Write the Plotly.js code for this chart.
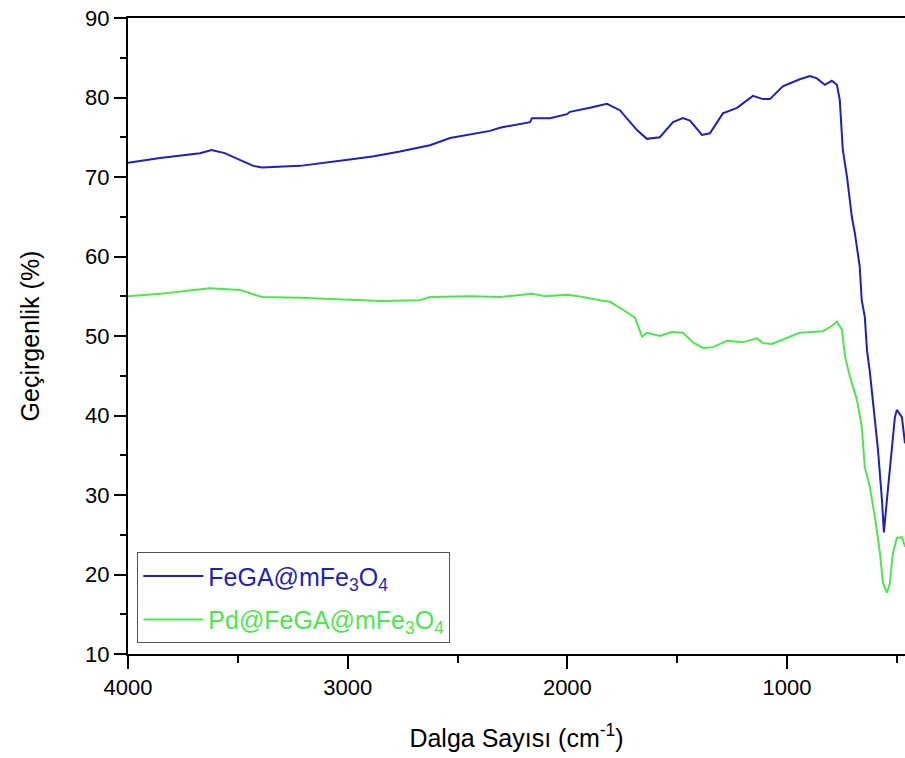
<!DOCTYPE html>
<html>
<head>
<meta charset="utf-8">
<script src="https://cdn.plot.ly/plotly-3.0.1.min.js"></script>
<style>html,body{margin:0;padding:0;background:#fff;}#chart{width:905px;height:758px;}</style>
</head>
<body>
<div id="chart"></div>
<script>
// FeGA@mFe3O4 (blue)
const blueWavenumber = [4000,3854,3672,3620,3560,3490,3430,3390,3217,2990,2880,2762,2625,2534,2420,2352,2307,2170,2161,2079,2002,1988,1897,1820,1761,1683,1638,1579,1519,1474,1442,1387,1351,1292,1228,1155,1110,1078,1019,942,896,864,828,796,773,760,746,727,705,691,669,660,646,636,623,609,586,568,559,545,532,509,500,477,463];
const blueTransmittance = [71.8,72.4,73.0,73.4,73.0,72.1,71.4,71.2,71.4,72.2,72.6,73.2,74.0,74.9,75.5,75.8,76.2,76.9,77.4,77.4,77.9,78.2,78.7,79.2,78.4,75.9,74.8,75.0,76.9,77.4,77.1,75.3,75.5,78.0,78.7,80.2,79.8,79.8,81.4,82.3,82.7,82.4,81.6,82.1,81.6,79.7,73.4,70.0,65.0,62.9,58.7,54.5,52.4,48.2,45.5,42.0,35.7,29.4,25.3,29.5,33.5,39.8,40.7,39.8,36.5];
// Pd@FeGA@mFe3O4 (green)
const greenWavenumber = [4000,3854,3700,3627,3490,3390,3217,2990,2850,2670,2625,2440,2307,2161,2100,2002,1950,1852,1806,1747,1692,1660,1638,1579,1524,1474,1428,1383,1337,1273,1201,1137,1110,1069,1001,942,882,837,805,773,750,736,714,682,660,646,623,600,577,563,545,532,518,500,477,463];
const greenTransmittance = [55.0,55.3,55.8,56.0,55.8,54.9,54.8,54.6,54.4,54.5,54.9,55.0,54.9,55.3,55.0,55.2,55.0,54.5,54.3,53.3,52.3,49.9,50.4,50.0,50.5,50.4,49.2,48.5,48.6,49.4,49.2,49.7,49.1,49.0,49.7,50.4,50.5,50.6,51.1,51.8,50.8,47.4,44.9,42.0,38.6,33.5,31.0,27.2,22.7,18.9,17.7,18.9,22.7,24.6,24.7,23.5];
const seriesNames = ['FeGA@mFe<sub>3</sub>O<sub>4</sub>', 'Pd@FeGA@mFe<sub>3</sub>O<sub>4</sub>'];
const xTitle = 'Dalga Sayısı (cm<sup>-1</sup>)';
const yTitle = 'Geçirgenlik (%)';

const blueColor = '#1f1fbf';
const greenColor = '#4ee64e';

const traces = [
  {x: blueWavenumber, y: blueTransmittance, mode: 'lines', type: 'scatter',
   name: '<span style="color:' + blueColor + '">' + seriesNames[0] + '</span>',
   legendgroup: 'a',
   line: {color: blueColor, width: 2}},
  {x: greenWavenumber, y: greenTransmittance, mode: 'lines', type: 'scatter',
   name: '<span style="color:' + greenColor + '">' + seriesNames[1] + '</span>',
   legendgroup: 'b',
   line: {color: greenColor, width: 2}}
];

const fontFam = 'Liberation Sans, Arial, sans-serif';
const layout = {
  width: 905, height: 758,
  margin: {l: 128, r: 0, t: 18, b: 104},
  paper_bgcolor: '#fff', plot_bgcolor: '#fff',
  font: {family: fontFam, color: '#000', size: 22},
  showlegend: true,
  legend: {
    x: 0.012, y: 0.017, xanchor: 'left', yanchor: 'bottom',
    bordercolor: '#555', borderwidth: 1, bgcolor: 'rgba(255,255,255,0)',
    font: {family: fontFam, size: 25},
    itemwidth: 60, tracegroupgap: 8
  },
  xaxis: {
    range: [4000, 463], autorange: false,
    tickvals: [4000, 3000, 2000, 1000],
    ticks: 'outside', ticklen: 13, tickwidth: 2, tickcolor: '#000',
    showline: true, linecolor: '#000', linewidth: 2, mirror: true,
    showgrid: false, zeroline: false,
    tickfont: {size: 22},
    minor: {tickvals: [3500, 2500, 1500, 500], ticks: 'outside', ticklen: 7, tickwidth: 2, tickcolor: '#000', showgrid: false},
    title: {text: xTitle, font: {size: 25}, standoff: 30}
  },
  yaxis: {
    range: [10, 90], autorange: false,
    dtick: 10, tick0: 10,
    ticks: 'outside', ticklen: 12, tickwidth: 2, tickcolor: '#000',
    showline: true, linecolor: '#000', linewidth: 2, mirror: false,
    showgrid: false, zeroline: false,
    tickfont: {size: 22},
    minor: {dtick: 5, ticks: 'outside', ticklen: 6, tickwidth: 2, tickcolor: '#000', showgrid: false},
    title: {text: yTitle, font: {size: 25}, standoff: 38}
  }
};

Plotly.newPlot('chart', traces, layout, {displayModeBar: false, responsive: false});
</script>
</body>
</html>
